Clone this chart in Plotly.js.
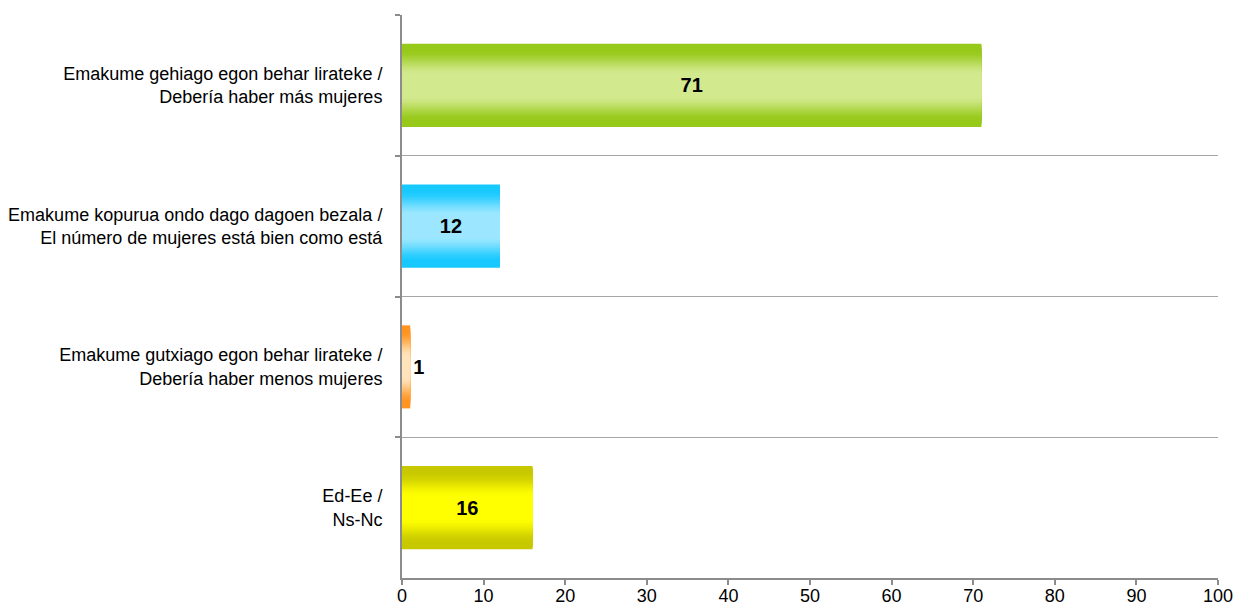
<!DOCTYPE html>
<html>
<head>
<meta charset="utf-8">
<script src="https://cdn.plot.ly/plotly-3.0.1.min.js"></script>
<style>html,body{margin:0;padding:0;background:#fff}#chart{width:1237px;height:610px}</style>
</head>
<body>
<div id="chart"></div>
<script>
// ---- data ----
const categories = [
  'Emakume gehiago egon behar lirateke /<br>Debería haber más mujeres',
  'Emakume kopurua ondo dago dagoen bezala /<br>El número de mujeres está bien como está',
  'Emakume gutxiago egon behar lirateke /<br>Debería haber menos mujeres',
  'Ed-Ee /<br>Ns-Nc'
];
const values = [71, 12, 1, 16];
const xTicks = [0, 10, 20, 30, 40, 50, 60, 70, 80, 90, 100];

// ---- styles ----
const edgeColors   = ['#97c91a', '#18c9ff', '#ff9420', '#c8c800'];
const centerColors = ['#d3e98e', '#9ce7ff', '#ffe3bb', '#ffff00'];
const labelPos = ['inside', 'inside', 'outside', 'inside'];
const BAR_W = 0.59;
const LAYERS = 30;
const FONT = 'Liberation Sans, Arial, sans-serif';

function hex2rgb(h){h=h.replace('#','');return [0,2,4].map(i=>parseInt(h.substr(i,2),16));}
function mix(a,b,t){const A=hex2rgb(a),B=hex2rgb(b);return 'rgb('+A.map((v,i)=>Math.round(v+(B[i]-v)*t)).join(',')+')';}
function profile(t){ // t: 0 at bar edge, 1 at bar centre
  const s = Math.min(1, Math.max(0, (t-0.12)/0.62));
  return s*s*(3-2*s);
}

const traces = [];
for (let k = 0; k < LAYERS; k++) {
  const t = k / LAYERS;
  traces.push({
    type: 'bar', orientation: 'h',
    y: categories, x: values,
    width: BAR_W * (1 - t),
    marker: {color: values.map((_, i) => mix(edgeColors[i], centerColors[i], profile(t))), line: {width: 0}},
    hoverinfo: 'skip', showlegend: false
  });
}
// labels on a transparent full-width bar on top
const lblFont = {family: FONT, size: 20, color: '#000', weight: 'bold'};
traces.push({
  type: 'bar', orientation: 'h',
  y: categories, x: values, width: BAR_W,
  marker: {color: 'rgba(0,0,0,0)', line: {width: 0}},
  text: values.map(String), textposition: labelPos,
  insidetextanchor: 'middle', constraintext: 'none',
  textfont: lblFont, outsidetextfont: lblFont, insidetextfont: lblFont,
  cliponaxis: false, hoverinfo: 'skip', showlegend: false
});

const layout = {
  width: 1237, height: 610,
  margin: {l: 402, r: 19, t: 15, b: 32, pad: 0},
  paper_bgcolor: '#fff', plot_bgcolor: '#fff',
  barmode: 'overlay',
  font: {family: FONT, size: 18, color: '#000'},
  xaxis: {
    range: [0, 100], tickvals: xTicks, ticktext: xTicks.map(String),
    showgrid: false, zeroline: false,
    showline: true, linecolor: '#8c8c8c', linewidth: 2,
    ticks: 'outside', ticklen: 5, tickwidth: 2, tickcolor: '#8c8c8c',
    tickfont: {family: FONT, size: 18, color: '#000'}, ticklabelstandoff: -5,
    fixedrange: true
  },
  yaxis: {
    type: 'category', categoryorder: 'array', categoryarray: categories,
    range: [3.5, -0.5],
    tickson: 'boundaries',
    showgrid: true, gridcolor: '#a6a6a6', gridwidth: 1,
    showline: true, linecolor: '#8c8c8c', linewidth: 2,
    ticks: 'outside', ticklen: 5, tickwidth: 2, tickcolor: '#8c8c8c',
    tickfont: {family: FONT, size: 18, color: '#000'}, ticklabelstandoff: 14,
    fixedrange: true
  }
};

Plotly.newPlot('chart', traces, layout, {displayModeBar: false, staticPlot: true});
</script>
</body>
</html>
